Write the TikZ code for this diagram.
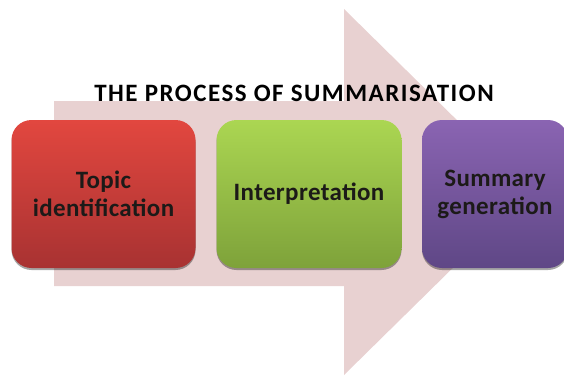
\documentclass[tikz,border=0pt]{standalone}
\usepackage{fontspec}
\setmainfont{Carlito}
\newfontfamily\titlefont[LetterSpace=6]{Carlito}
\newfontfamily\boxfont[LetterSpace=1.5]{Carlito}
\usetikzlibrary{shadows}
\definecolor{arrowpink}{HTML}{E8D1D1}
\definecolor{redtop}{HTML}{E2473F}
\definecolor{redbot}{HTML}{A83232}
\definecolor{greentop}{HTML}{ABD652}
\definecolor{greenbot}{HTML}{7EA23A}
\definecolor{purptop}{HTML}{8A64B2}
\definecolor{purpbot}{HTML}{5F4786}
\definecolor{textdark}{HTML}{1C1A18}
\begin{document}
\begin{tikzpicture}[x=1pt,y=-1pt,
  stepbox/.style={rounded corners=20pt, minimum height=148pt,
    align=center, inner sep=0pt, text=textdark,
    font=\boxfont\fontsize{25}{28}\selectfont\bfseries,
    drop shadow={shadow xshift=0pt, shadow yshift=-2pt, opacity=0.35, fill=black}},
  titletext/.style={font=\titlefont\fontsize{25}{28}\selectfont\bfseries, text=black, inner sep=0pt}]
\useasboundingbox (0,0) rectangle (564,376);
\clip (0,0) rectangle (564,376);
\fill[arrowpink] (54,101) -- (344,101) -- (344,9) -- (530,192) -- (344,375) -- (344,286) -- (54,286) -- cycle;
\node[titletext, anchor=base] (title) at (294,101) {THE PROCESS OF SUMMARISATION};
\node[stepbox, minimum width=184pt, top color=redtop, bottom color=redbot] (topic) at (103.5,194) {Topic\\identification};
\node[stepbox, minimum width=185pt, top color=greentop, bottom color=greenbot] (interp) at (309,194) {Interpretation};
\node[stepbox, minimum width=146pt, top color=purptop, bottom color=purpbot] (summary) at (495,194) {Summary\\generation};
\end{tikzpicture}
\end{document}
